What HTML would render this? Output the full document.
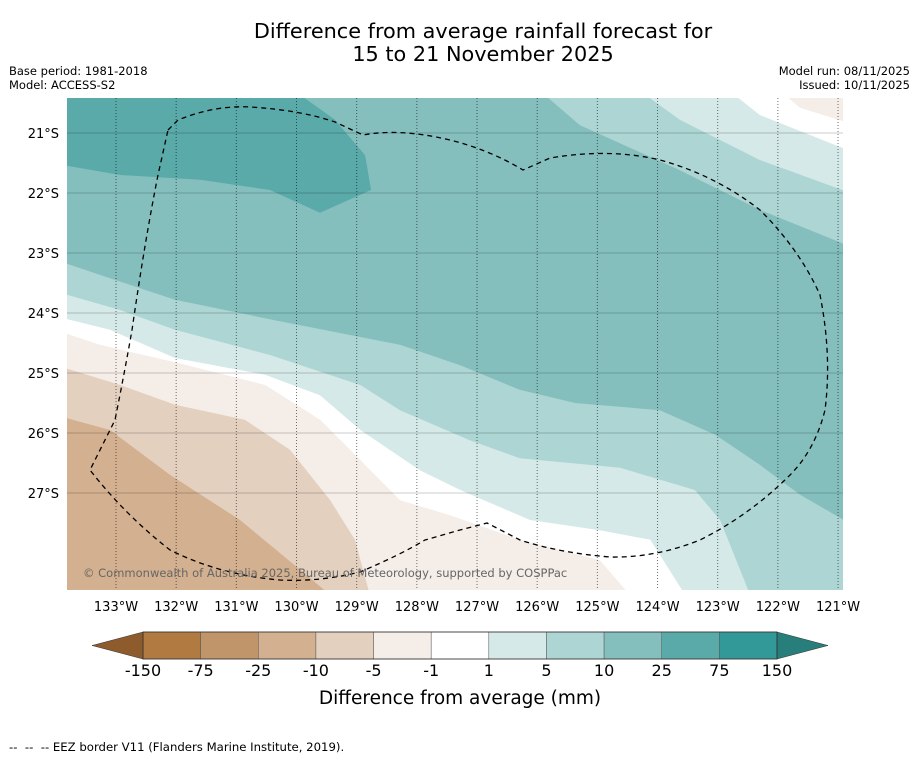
<!DOCTYPE html>
<html><head><meta charset="utf-8">
<style>
body{margin:0;background:#fff;font-family:"Liberation Sans","DejaVu Sans",sans-serif;}
</style></head>
<body>
<svg id="chart" width="919" height="758" xmlns="http://www.w3.org/2000/svg" font-family="DejaVu Sans, Liberation Sans, sans-serif">
<rect width="919" height="758" fill="#fff"/>
<text x="483" y="38" text-anchor="middle" font-size="20.8">Difference from average rainfall forecast for</text>
<text x="483" y="61" text-anchor="middle" font-size="20.8">15 to 21 November 2025</text>
<text x="9" y="75" font-size="11.5">Base period: 1981-2018</text>
<text x="9" y="89" font-size="11.5">Model: ACCESS-S2</text>
<text x="910" y="75" font-size="11.5" text-anchor="end">Model run: 08/11/2025</text>
<text x="910" y="89" font-size="11.5" text-anchor="end">Issued: 10/11/2025</text>
<defs><clipPath id="mapclip"><rect x="67" y="98" width="776" height="492"/></clipPath></defs>
<g id="map" clip-path="url(#mapclip)"></g>
<g id="axes"></g>
<g id="cbar"></g>
<text x="460" y="704" text-anchor="middle" font-size="18.5">Difference from average (mm)</text>
<text x="9" y="751" font-size="11.7" xml:space="preserve">--  --  -- EEZ border V11 (Flanders Marine Institute, 2019).</text>
</svg>
<script>
// Axis ranges (degrees; lon west positive, lat south positive)
const lonTicks=[133,132,131,130,129,128,127,126,125,124,123,122,121];
const latTicks=[21,22,23,24,25,26,27];
const levelColors=["#d3b08f","#e3d0bf","#f4ede8","#ffffff","#d5e9e8","#acd5d4","#84bfbe","#5aaaa9"];
// contour lower/left boundaries [lonW, latS]
const contourM10=[[133.9,25.73],[133.10,25.95],[132.10,26.70],[130.94,27.45],[129.94,28.28],[129.44,28.7]];
const contourM5=[[133.9,24.90],[132.93,25.20],[132.02,25.53],[130.86,25.78],[130.11,26.28],[129.44,27.12],[129.03,27.78],[128.78,28.7]];
const contourM1=[[133.9,24.32],[133.27,24.53],[132.02,24.82],[130.52,25.20],[129.61,25.78],[128.94,26.45],[128.28,27.12],[127.45,27.37],[126.29,27.78],[124.96,28.12],[124.46,28.7]];
const contourP1=[[133.9,24.08],[133.10,24.28],[132.02,24.75],[130.52,25.03],[129.61,25.37],[128.94,25.95],[127.95,26.62],[127.28,26.95],[126.12,27.45],[124.96,27.62],[124.12,27.78],[123.54,28.7]];
const contourP5=[[133.9,23.67],[132.93,23.95],[132.02,24.28],[130.44,24.70],[128.94,25.20],[128.28,25.62],[127.12,26.12],[126.29,26.42],[124.62,26.58],[123.38,26.95],[122.96,27.45],[122.46,28.7]];
const contourP10=[[133.9,23.15],[133.10,23.42],[132.02,23.78],[130.36,24.12],[128.28,24.53],[127.28,24.87],[126.29,25.28],[125.37,25.50],[123.96,25.62],[123.04,26.03],[122.30,26.53],[121.63,27.03],[120.85,27.48]];
// upper-right boundaries (from top edge to right edge)
const topM1=[[121.96,20.3],[121.63,20.58],[120.85,20.82]];
const topP1=[[122.80,20.3],[122.30,20.70],[120.85,21.28]];
const topP5=[[124.29,20.3],[123.63,20.78],[122.30,21.45],[120.85,21.98]];
const topP10=[[125.95,20.3],[125.29,20.87],[123.63,21.62],[122.30,22.28],[120.85,22.87]];
const contourP25=[[130.03,20.3],[129.36,20.78],[128.86,21.37],[128.76,21.95],[129.61,22.33],[130.44,21.95],[131.60,21.78],[132.93,21.70],[133.9,21.53],[133.9,20.3]];

const X=lon=>116+(133-lon)*60.17;
const Y=lat=>133+(lat-21)*60;
const NS="http://www.w3.org/2000/svg";
function mk(tag,attrs,parent){const e=document.createElementNS(NS,tag);for(const k in attrs)e.setAttribute(k,attrs[k]);parent.appendChild(e);return e;}
const map=document.getElementById('map');
const pts=a=>a.map(p=>X(p[0]).toFixed(1)+","+Y(p[1]).toFixed(1));
const bg=mk('rect',{x:67,y:98,width:776,height:492,fill:levelColors[0]},map);


const levels=[[contourM10,null],[contourM5,null],[contourM1,topM1],[contourP1,topP1],[contourP5,topP5],[contourP10,topP10]];
const names=['contour-minus10-to-minus5','contour-minus5-to-minus1','contour-minus1-to-1','contour-1-to-5','contour-5-to-10','contour-10-to-25'];
levels.forEach((lv,i)=>{
  const lower=lv[0],top=lv[1];
  let p=pts(lower);
  p.push("900,"+(Y(lower[lower.length-1][1])));
  p.push("900,650");
  if(top){p.push("900,"+Y(top[top.length-1][1]).toFixed(1));p=p.concat(pts(top.slice().reverse()));p.push(X(top[0][0]).toFixed(1)+",80");}
  else p.push("900,80");
  p.push("40,80");
  const poly=mk('polygon',{points:p.join(" "),fill:levelColors[i+1]},map);
  
  
});
const tc=mk('polygon',{points:pts(topM1).join(" ")+" 900,80",fill:"#f4ede8"},map);


const p25=mk('polygon',{points:pts(contourP25).join(" "),fill:levelColors[7]},map);


// gridlines
const axes=document.getElementById('axes');
latTicks.forEach(l=>{
  const g=mk('line',{x1:67,x2:843,y1:Y(l),y2:Y(l),stroke:"#000","stroke-opacity":0.2,"stroke-width":1},map);
  
  
  const t=mk('text',{x:59,y:Y(l)+5,"text-anchor":"end","font-size":13},axes);
  t.textContent=l+"°S";
  
  
});
lonTicks.forEach(l=>{
  const g=mk('line',{x1:X(l),x2:X(l),y1:98,y2:590,stroke:"#000","stroke-opacity":0.55,"stroke-width":1,"stroke-dasharray":"1,2"},map);
  
  
  const t=mk('text',{x:X(l),y:611,"text-anchor":"middle","font-size":13},axes);
  t.textContent=l+"°W";
  
  
});
// EEZ border
const eez=mk('path',{d:"M168,130 L178,120 Q215,105 250,107 Q300,110 335,122 L363,135 Q400,128 450,140 Q490,150 523,170 L550,158 Q610,148 660,160 Q715,175 760,210 Q800,250 820,295 Q832,355 825,410 Q815,450 790,475 Q750,515 700,540 Q655,558 610,557 Q560,553 520,540 L487,523 L460,530 L425,540 Q400,555 360,572 Q320,582 280,580 Q220,575 170,550 Q125,515 90,470 L115,420 Q125,370 132,330 Q145,240 158,175 Z",fill:"none",stroke:"#000","stroke-width":1.3,"stroke-dasharray":"5,4"},map);


const cp=mk('text',{x:83,y:577,"font-size":11.5,fill:"#666"},map);
cp.textContent="© Commonwealth of Australia 2025, Bureau of Meteorology, supported by COSPPac";


// colorbar
const cbLabels=["-150","-75","-25","-10","-5","-1","1","5","10","25","75","150"];
const cbColors=["#b07a40","#c1956a","#d3b08f","#e3d0bf","#f4ede8","#ffffff","#d5e9e8","#acd5d4","#84bfbe","#5aaaa9","#339998"];
const cb=document.getElementById('cbar');
const cbx0=143,cbw=(777-143)/11,cby=632,cbh=27;
cbColors.forEach((c,i)=>{
  const r=mk('rect',{x:cbx0+i*cbw,y:cby,width:cbw,height:cbh,fill:c,stroke:"#555","stroke-width":0.5},cb);
  
  
});
const lt=mk('polygon',{points:`${cbx0},${cby} 92,${cby+cbh/2} ${cbx0},${cby+cbh}`,fill:"#8e5c2c",stroke:"#333","stroke-width":0.5},cb);


const rt=mk('polygon',{points:`777,${cby} 828,${cby+cbh/2} 777,${cby+cbh}`,fill:"#287e7b",stroke:"#333","stroke-width":0.5},cb);


mk('rect',{x:cbx0,y:cby,width:777-cbx0,height:cbh,fill:"none",stroke:"#333","stroke-width":0.8},cb);
cbLabels.forEach((l,i)=>{
  const t=mk('text',{x:cbx0+i*cbw,y:676,"text-anchor":"middle","font-size":16},cb);
  t.textContent=l;
  
  
});
</script>
</body></html>
